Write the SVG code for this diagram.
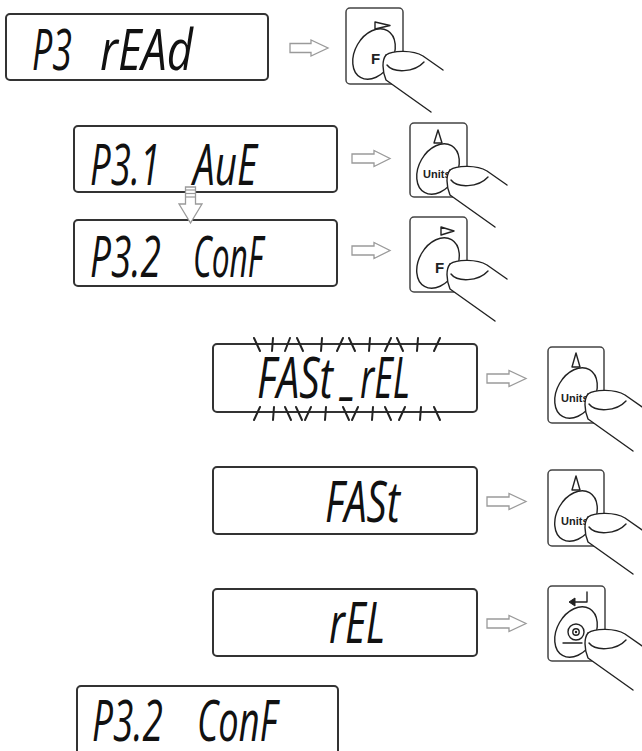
<svg xmlns="http://www.w3.org/2000/svg" width="642" height="751" viewBox="0 0 642 751">
<defs>
<style>
.lcd{fill:#fff;stroke:#333;stroke-width:2}
.seg{font-family:"Open Sans","DejaVu Sans",sans-serif;font-style:italic;font-weight:400;font-size:56px;fill:#111}
.arr{fill:#fff;stroke:#9a9a9a;stroke-width:1.3;stroke-linejoin:miter}
.key{fill:#fff;stroke:#444;stroke-width:1.5}
.ln{fill:none;stroke:#222;stroke-width:1.4;stroke-linecap:round;stroke-linejoin:round}
.lbl{font-family:"Liberation Sans",Arial,sans-serif;font-weight:bold;fill:#222}
.tick{stroke:#222;stroke-width:2;stroke-linecap:round}
.hatch{stroke:#9a9a9a;stroke-width:1.2}
</style>
<ellipse id="oval" cx="28" cy="46" rx="19" ry="27" transform="rotate(30 28 46)" class="ln"/>
<g id="finger">
<path d="M40,47 C47,42 67,42 77,48 L115,74 L115,120 L85,104 L40,72 C36,62 36,52 40,47 Z" fill="#fff" stroke="none"/>
<path class="ln" d="M40,47 C47,42 67,42 77,48 L97,62"/>
<path class="ln" d="M41,57 C47,65 68,65 78,54"/>
<path class="ln" d="M40,47 C36,52 36,62 40,72 L85,104"/>
</g>
</defs>
<rect width="642" height="751" fill="#fff"/>

<g id="display-p3-read">
<rect class="lcd" x="6" y="14" width="262" height="66" rx="4"/>
<text class="seg" y="70"><tspan x="32" textLength="40" lengthAdjust="spacingAndGlyphs">P3</tspan> <tspan x="100" textLength="93" lengthAdjust="spacingAndGlyphs">rEAd</tspan></text>
</g>

<g id="display-p31-ave">
<rect class="lcd" x="74" y="126" width="263" height="66" rx="4"/>
<text class="seg" y="185"><tspan x="90" textLength="70" lengthAdjust="spacingAndGlyphs">P3.1</tspan> <tspan x="193" textLength="64" lengthAdjust="spacingAndGlyphs">AuE</tspan></text>
</g>

<g id="display-p32-conf">
<rect class="lcd" x="74" y="220" width="263" height="66" rx="4"/>
<text class="seg" y="277"><tspan x="90" textLength="71" lengthAdjust="spacingAndGlyphs">P3.2</tspan> <tspan x="193" textLength="70" lengthAdjust="spacingAndGlyphs">ConF</tspan></text>
</g>

<g id="display-fast-rel-blink">
<rect class="lcd" x="213" y="344" width="264" height="68" rx="4"/>
<text class="seg" y="398"><tspan x="257" textLength="76" lengthAdjust="spacingAndGlyphs">FASt</tspan><tspan x="342" dy="-6" textLength="13" lengthAdjust="spacingAndGlyphs">_</tspan><tspan x="360" dy="6" textLength="50" lengthAdjust="spacingAndGlyphs">rEL</tspan></text>
<g class="tick">
<line x1="254" y1="338" x2="260" y2="351"/>
<line x1="273" y1="338" x2="272" y2="351"/>
<line x1="290" y1="338" x2="285" y2="351"/>
<line x1="297" y1="338" x2="303" y2="351"/>
<line x1="322" y1="338" x2="321" y2="351"/>
<line x1="343" y1="338" x2="337" y2="351"/>
<line x1="349" y1="338" x2="355" y2="351"/>
<line x1="370" y1="338" x2="369" y2="351"/>
<line x1="391" y1="338" x2="385" y2="351"/>
<line x1="397" y1="338" x2="403" y2="351"/>
<line x1="418" y1="338" x2="417" y2="351"/>
<line x1="440" y1="338" x2="434" y2="351"/>
<line x1="260" y1="407" x2="254" y2="420"/>
<line x1="274" y1="407" x2="273" y2="420"/>
<line x1="285" y1="407" x2="291" y2="420"/>
<line x1="296" y1="407" x2="302" y2="420"/>
<line x1="311" y1="407" x2="305" y2="420"/>
<line x1="326" y1="407" x2="325" y2="420"/>
<line x1="343" y1="407" x2="349" y2="420"/>
<line x1="358" y1="407" x2="352" y2="420"/>
<line x1="373" y1="407" x2="372" y2="420"/>
<line x1="385" y1="407" x2="391" y2="420"/>
<line x1="405" y1="407" x2="399" y2="420"/>
<line x1="421" y1="407" x2="420" y2="420"/>
<line x1="434" y1="407" x2="440" y2="420"/>
</g>
</g>

<g id="display-fast">
<rect class="lcd" x="213" y="467" width="264" height="67" rx="4"/>
<text class="seg" y="522" x="325" textLength="75" lengthAdjust="spacingAndGlyphs">FASt</text>
</g>

<g id="display-rel">
<rect class="lcd" x="213" y="589" width="264" height="67" rx="4"/>
<text class="seg" y="643" x="329" textLength="56" lengthAdjust="spacingAndGlyphs">rEL</text>
</g>

<g id="display-p32-conf-final">
<rect class="lcd" x="77" y="686" width="261" height="80" rx="4"/>
<text class="seg" y="741" font-size="54"><tspan x="92" textLength="71" lengthAdjust="spacingAndGlyphs">P3.2</tspan> <tspan x="197" textLength="80" lengthAdjust="spacingAndGlyphs">ConF</tspan></text>
</g>

<g id="key-f-1" transform="translate(346,8)">
<rect class="key" x="0" y="0" width="57" height="76" rx="4"/>
<path class="ln" d="M29,14 L44,17.5 L29,21 Z"/>
<use href="#oval"/>
<text class="lbl" x="25" y="56" font-size="15">F</text>
<use href="#finger"/>
</g>

<g id="key-units-1" transform="translate(410,123)">
<rect class="key" x="0" y="0" width="57" height="74" rx="4"/>
<path class="ln" d="M28,7 L32,20 L24,20 Z"/>
<use href="#oval"/>
<text class="lbl" x="13" y="55" font-size="11">Units</text>
<use href="#finger"/>
</g>

<g id="key-f-2" transform="translate(410,217)">
<rect class="key" x="0" y="0" width="57" height="75" rx="4"/>
<path class="ln" d="M31,10 L44,14 L31,18 Z"/>
<use href="#oval"/>
<text class="lbl" x="25" y="56" font-size="15">F</text>
<use href="#finger"/>
</g>

<g id="key-units-2" transform="translate(548,347)">
<rect class="key" x="0" y="0" width="56" height="76" rx="4"/>
<path class="ln" d="M28,6 L32,20 L24,20 Z"/>
<use href="#oval"/>
<text class="lbl" x="13" y="55" font-size="11">Units</text>
<use href="#finger"/>
</g>

<g id="key-units-3" transform="translate(548,470)">
<rect class="key" x="0" y="0" width="56" height="76" rx="4"/>
<path class="ln" d="M28,6 L32,20 L24,20 Z"/>
<use href="#oval"/>
<text class="lbl" x="13" y="55" font-size="11">Units</text>
<use href="#finger"/>
</g>

<g id="key-enter" transform="translate(548,586)">
<rect class="key" x="0" y="0" width="57" height="75" rx="4"/>
<path class="ln" d="M39,6 L39,16 L26,16"/>
<path d="M21,16 L27,12 L27,20 Z" fill="#222" stroke="#222" stroke-width="1" stroke-linejoin="round"/>
<use href="#oval"/>
<circle class="ln" cx="28" cy="46" r="8"/>
<circle class="ln" cx="28" cy="46" r="3.2"/>
<circle cx="28" cy="46" r="1.2" fill="#222"/>
<path class="ln" d="M15,57 L34,57"/>
<use href="#finger"/>
</g>

<g id="connectors">
<path class="arr" d="M290,43.5 L311,43.5 L311,40 L328,48 L311,56 L311,52.5 L290,52.5 Z"/>
<path class="arr" d="M352,154 L374,154 L374,150.5 L390,158.5 L374,166.5 L374,163 L352,163 Z"/>
<path class="arr" d="M352,246 L374,246 L374,242.5 L390,250.5 L374,258.5 L374,255 L352,255 Z"/>
<path class="arr" d="M487,374 L509,374 L509,370.5 L526,378.5 L509,386.5 L509,383 L487,383 Z"/>
<path class="arr" d="M487,497 L509,497 L509,493.5 L526,501.5 L509,509.5 L509,506 L487,506 Z"/>
<path class="arr" d="M487,619 L509,619 L509,615.5 L526,623.5 L509,631.5 L509,628 L487,628 Z"/>
<path class="arr" d="M185.5,187 L195.5,187 L195.5,204 L202,204 L190.5,223 L179,204 L185.5,204 Z"/>
<g class="hatch"><line x1="186" y1="190" x2="195" y2="190"/><line x1="186" y1="193.5" x2="195" y2="193.5"/><line x1="186" y1="197" x2="195" y2="197"/></g>
</g>
</svg>
